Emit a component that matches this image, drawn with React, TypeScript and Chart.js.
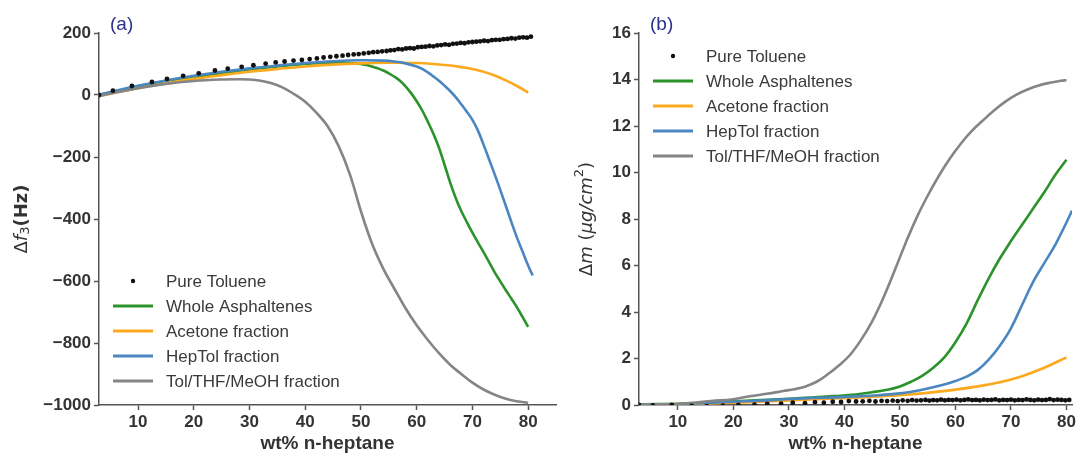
import React, { useEffect, useRef } from 'react';
import { Chart, registerables } from 'chart.js';

Chart.register(...registerables);

// ---------- data ----------
const xTickValues = [10, 20, 30, 40, 50, 60, 70, 80];

const legendLabels = ['Pure Toluene', 'Whole Asphaltenes', 'Acetone fraction', 'HepTol fraction', 'Tol/THF/MeOH fraction'];
const seriesColors = ['#111111', '#2a932a', '#fca91e', '#4a87c0', '#858585'];

// Pure toluene (shared x for both panels)
const tolX = [3.0, 5.5, 8.9, 12.5, 15.2, 18.1, 20.9, 23.8, 26.1, 28.6,
  30.7, 32.9, 34.7, 36.3, 37.9, 39.4, 40.8, 42.1, 43.3, 44.5,
  45.6, 46.7, 47.7, 48.7, 49.6, 50.5, 51.4, 52.2, 53.0, 53.8,
  54.6, 55.3, 56.0, 56.7, 57.4, 58.1, 58.8, 59.5, 60.2, 60.9,
  61.6, 62.3, 63.0, 63.7, 64.4, 65.1, 65.8, 66.5, 67.2, 67.9,
  68.6, 69.3, 70.0, 70.7, 71.4, 72.1, 72.8, 73.5, 74.2, 74.9,
  75.6, 76.3, 77.0, 77.7, 78.4, 79.1, 79.8, 80.5];
const tolFreq = [0, 14, 29, 42, 52, 62, 70, 79, 85, 91,
  96, 101, 105, 108, 111, 113, 116, 118, 121, 123,
  125, 127, 129, 131, 132, 134, 136, 138, 139, 141,
  142, 144, 145, 148, 147, 150, 151, 150, 154, 155,
  156, 158, 157, 160, 161, 163, 162, 165, 166, 168,
  167, 170, 171, 172, 173, 175, 174, 177, 178, 178,
  180, 181, 183, 182, 185, 186, 185, 188];
const tolMass = [0, -0.02, 0.0, -0.04, -0.05, -0.03, 0.0, 0.02, 0.05, 0.06,
  0.1, 0.08, 0.12, 0.1, 0.14, 0.13, 0.17, 0.15, 0.16, 0.18,
  0.15, 0.18, 0.17, 0.19, 0.17, 0.2, 0.18, 0.21, 0.19, 0.2,
  0.22, 0.19, 0.21, 0.2, 0.23, 0.2, 0.22, 0.21, 0.23, 0.2,
  0.22, 0.24, 0.21, 0.22, 0.2, 0.23, 0.21, 0.22, 0.24, 0.2,
  0.22, 0.21, 0.23, 0.2, 0.22, 0.21, 0.24, 0.22, 0.2, 0.23,
  0.21, 0.22, 0.25, 0.21, 0.23, 0.22, 0.2, 0.22];

// Panel (a): frequency shift
const wholeFreqX = [3, 6, 10, 15, 20, 25, 30, 35, 40, 44, 47, 49, 50, 51, 52, 53, 54, 55, 56, 57, 58, 59, 60, 61, 62, 63, 64, 65, 66, 67, 68, 69, 70, 71, 72, 73, 74, 75, 76, 77, 78, 79, 80];
const wholeFreqY = [0, 12, 28, 45, 58, 70, 82, 92, 100, 104, 104, 102, 100, 97, 92, 86, 79, 70, 59, 46, 28, 6, -20, -50, -86, -125, -170, -225, -282, -332, -374, -410, -444, -476, -507, -539, -572, -601, -630, -657, -685, -716, -748];

const acetoneFreqX = [3, 6, 10, 15, 20, 25, 30, 35, 40, 45, 50, 55, 60, 63, 66, 68, 70, 72, 74, 76, 78, 80];
const acetoneFreqY = [-4, 8, 22, 38, 52, 64, 75, 84, 92, 98, 102, 104, 103, 100, 95, 90, 84, 75, 63, 47, 29, 8];

const heptolFreqX = [3, 6, 10, 15, 20, 25, 30, 35, 40, 45, 50, 54, 56, 58, 60, 61, 62, 63, 64, 65, 66, 67, 68, 69, 70, 71, 72, 73, 74, 75, 76, 77, 78, 79, 80, 80.8];
const heptolFreqY = [0, 14, 30, 47, 62, 75, 86, 95, 103, 109, 112, 111, 108, 102, 92, 84, 73, 60, 46, 30, 13, -7, -30, -54, -80, -115, -160, -208, -256, -306, -358, -410, -460, -505, -550, -582];

const tthfFreqX = [3, 6, 10, 15, 20, 25, 28, 30, 32, 34, 36, 38, 40, 42, 44, 46, 48, 50, 52, 54, 56, 58, 60, 62, 64, 66, 68, 70, 72, 74, 76, 78, 80];
const tthfFreqY = [-4, 8, 22, 36, 45, 50, 51, 50, 46, 38, 24, 3, -22, -57, -100, -165, -255, -375, -480, -560, -625, -688, -743, -790, -833, -870, -900, -928, -950, -967, -980, -988, -993];

// Panel (b): mass
const wholeMassX = [3, 6, 10, 14, 18, 22, 26, 30, 34, 38, 42, 45, 48, 50, 52, 54, 56, 58, 60, 62, 64, 66, 68, 70, 72, 74, 76, 78, 80];
const wholeMassY = [0.02, 0.04, 0.05, 0.1, 0.15, 0.18, 0.22, 0.27, 0.32, 0.38, 0.45, 0.55, 0.67, 0.8, 1.0, 1.25, 1.6, 2.05, 2.7, 3.5, 4.5, 5.45, 6.3, 7.05, 7.75, 8.45, 9.15, 9.9, 10.55];

const acetoneMassX = [3, 8, 14, 20, 26, 32, 38, 44, 50, 55, 60, 64, 68, 72, 76, 80];
const acetoneMassY = [0.0, 0.02, 0.06, 0.1, 0.15, 0.22, 0.28, 0.34, 0.42, 0.52, 0.66, 0.8, 0.98, 1.24, 1.6, 2.05];

const heptolMassX = [3, 6, 10, 14, 18, 22, 26, 30, 34, 38, 42, 46, 50, 54, 58, 60, 62, 64, 66, 68, 70, 72, 74, 76, 78, 80, 81];
const heptolMassY = [0.0, 0.02, 0.03, 0.08, 0.12, 0.16, 0.2, 0.26, 0.3, 0.33, 0.37, 0.42, 0.5, 0.66, 0.88, 1.03, 1.22, 1.5, 1.95, 2.55, 3.3, 4.3, 5.3, 6.1, 6.9, 7.85, 8.36];

const tthfMassX = [3, 6, 10, 13, 16, 20, 23, 26, 29, 31, 33, 35, 37, 39, 41, 43, 45, 47, 49, 51, 53, 55, 57, 59, 61, 63, 65, 67, 69, 71, 73, 75, 77, 79, 80];
const tthfMassY = [0.0, 0.02, 0.04, 0.1, 0.17, 0.25, 0.38, 0.48, 0.6, 0.68, 0.8, 1.0, 1.32, 1.7, 2.15, 2.8, 3.6, 4.6, 5.75, 6.95, 8.05, 9.0, 9.85, 10.6, 11.25, 11.8, 12.25, 12.68, 13.05, 13.35, 13.57, 13.74, 13.86, 13.95, 13.97];

// ---------- helpers ----------
const pts = (xs: number[], ys: number[]) => xs.map((x, i) => ({ x, y: ys[i] }));

type Piece = { t: string; font: string; dy?: number };

const decorPlugin = {
  id: 'panelDecor',
  afterDraw(chart: any, _args: any, opts: any) {
    const ctx = chart.ctx as CanvasRenderingContext2D;
    const ca = chart.chartArea;
    ctx.save();
    // panel label
    ctx.font = '19px "Liberation Sans"';
    ctx.fillStyle = '#2d2f8c';
    ctx.textBaseline = 'middle';
    ctx.textAlign = 'left';
    ctx.fillText(opts.label, ca.left + 11, 25);

    // legend
    const rowH = 25;
    opts.legendLabels.forEach((lab: string, i: number) => {
      const y = opts.legendTop + i * rowH;
      const x0 = ca.left + 14;
      if (i === 0) {
        ctx.fillStyle = opts.colors[0];
        ctx.beginPath();
        ctx.arc(x0 + 20, y, 2.2, 0, Math.PI * 2);
        ctx.fill();
      } else {
        ctx.strokeStyle = opts.colors[i];
        ctx.lineWidth = 3;
        ctx.beginPath();
        ctx.moveTo(x0, y);
        ctx.lineTo(x0 + 40, y);
        ctx.stroke();
      }
      ctx.fillStyle = '#3a3a3a';
      ctx.font = '17px "Liberation Sans"';
      ctx.textAlign = 'left';
      ctx.textBaseline = 'middle';
      ctx.fillText(lab, ca.left + 67, y + 1);
    });

    // x title
    ctx.fillStyle = '#333333';
    ctx.font = 'bold 19px "Liberation Sans"';
    ctx.textAlign = 'center';
    ctx.textBaseline = 'middle';
    ctx.fillText(opts.xTitle, (ca.left + ca.right) / 2, 444);

    // y title (rotated, mixed fonts)
    const pieces: Piece[] = opts.yTitle;
    ctx.translate(opts.yTitleX, (ca.top + ca.bottom) / 2);
    ctx.rotate(-Math.PI / 2);
    let total = 0;
    pieces.forEach((p) => { ctx.font = p.font; total += ctx.measureText(p.t).width; });
    let cx = -total / 2;
    ctx.textAlign = 'left';
    ctx.textBaseline = 'middle';
    ctx.fillStyle = '#333333';
    pieces.forEach((p) => {
      ctx.font = p.font;
      ctx.fillText(p.t, cx, p.dy || 0);
      cx += ctx.measureText(p.t).width;
    });
    ctx.restore();
  },
};

const axisColor = '#555555';
const tickFont = { family: 'Liberation Sans', size: 17, weight: 'bold' as const };

function buildOptions(p: {
  xMin: number; xMax: number; yMin: number; yMax: number; yStep: number;
  yWidth: number; padRight: number; label: string; legendTop: number;
  yTitle: Piece[]; yTitleX: number;
}) {
  return {
    responsive: false,
    animation: false as const,
    layout: { padding: { top: 33, right: p.padRight, left: 0, bottom: 0 } },
    plugins: {
      legend: { display: false },
      tooltip: { enabled: false },
      panelDecor: {
        label: p.label,
        legendTop: p.legendTop,
        legendLabels,
        colors: seriesColors,
        xTitle: 'wt% n-heptane',
        yTitle: p.yTitle,
        yTitleX: p.yTitleX,
      },
    },
    scales: {
      x: {
        type: 'linear' as const,
        min: p.xMin,
        max: p.xMax,
        afterBuildTicks: (s: any) => { s.ticks = xTickValues.map((v) => ({ value: v })); },
        afterFit: (s: any) => { s.height = 49; },
        grid: { display: true, drawOnChartArea: false, drawTicks: true, tickLength: 5, tickWidth: 1.5, tickColor: axisColor },
        border: { display: true, color: axisColor, width: 1.5 },
        ticks: { font: tickFont, color: '#333333', padding: 2, maxRotation: 0, autoSkip: false },
      },
      y: {
        type: 'linear' as const,
        min: p.yMin,
        max: p.yMax,
        afterFit: (s: any) => { s.width = p.yWidth; },
        grid: { display: true, drawOnChartArea: false, drawTicks: true, tickLength: 5, tickWidth: 1.5, tickColor: axisColor },
        border: { display: true, color: axisColor, width: 1.5 },
        ticks: {
          stepSize: p.yStep,
          font: tickFont,
          color: '#333333',
          padding: 3,
          callback: (v: any) => String(v).replace('-', '\u2212'),
        },
      },
    },
  };
}

function lineDs(data: { x: number; y: number }[], color: string, order: number) {
  return {
    data,
    showLine: true,
    borderColor: color,
    backgroundColor: color,
    borderWidth: 2.6,
    pointRadius: 0,
    tension: 0.4,
    order,
  };
}

function dotDs(data: { x: number; y: number }[]) {
  return {
    data,
    showLine: false,
    pointRadius: 2.4,
    pointBorderWidth: 0,
    backgroundColor: seriesColors[0],
    borderColor: seriesColors[0],
    order: 0,
  };
}

export default function App() {
  const leftRef = useRef<HTMLCanvasElement>(null);
  const rightRef = useRef<HTMLCanvasElement>(null);

  useEffect(() => {
    const left = new Chart(leftRef.current as HTMLCanvasElement, {
      type: 'scatter',
      data: {
        datasets: [
          dotDs(pts(tolX, tolFreq)),
          lineDs(pts(wholeFreqX, wholeFreqY), seriesColors[1], 4),
          lineDs(pts(acetoneFreqX, acetoneFreqY), seriesColors[2], 3),
          lineDs(pts(heptolFreqX, heptolFreqY), seriesColors[3], 2),
          lineDs(pts(tthfFreqX, tthfFreqY), seriesColors[4], 1),
        ] as any,
      },
      options: buildOptions({
        xMin: 3, xMax: 85, yMin: -1000, yMax: 200, yStep: 200,
        yWidth: 99, padRight: 3, label: '(a)', legendTop: 281,
        yTitleX: 22,
        yTitle: [
          { t: 'Δ', font: '18px "DejaVu Sans"' },
          { t: 'f', font: 'italic 18px "DejaVu Sans"' },
          { t: '3', font: '13px "DejaVu Sans"', dy: 4 },
          { t: '(Hz)', font: 'bold 18px "DejaVu Sans"' },
        ],
      }) as any,
      plugins: [decorPlugin as any],
    });

    const right = new Chart(rightRef.current as HTMLCanvasElement, {
      type: 'scatter',
      data: {
        datasets: [
          dotDs(pts(tolX, tolMass)),
          lineDs(pts(wholeMassX, wholeMassY), seriesColors[1], 4),
          lineDs(pts(acetoneMassX, acetoneMassY), seriesColors[2], 3),
          lineDs(pts(heptolMassX, heptolMassY), seriesColors[3], 2),
          lineDs(pts(tthfMassX, tthfMassY), seriesColors[4], 1),
        ] as any,
      },
      options: buildOptions({
        xMin: 3, xMax: 81, yMin: 0, yMax: 16, yStep: 2,
        yWidth: 79, padRight: 14, label: '(b)', legendTop: 56,
        yTitleX: 27,
        yTitle: [
          { t: 'Δ', font: '18px "DejaVu Sans"' },
          { t: 'm', font: 'italic 18px "DejaVu Sans"' },
          { t: ' (', font: '18px "DejaVu Sans"' },
          { t: 'μg/cm', font: 'italic 18px "DejaVu Sans"' },
          { t: '2', font: '13px "DejaVu Sans"', dy: -7 },
          { t: ')', font: '18px "DejaVu Sans"' },
        ],
      }) as any,
      plugins: [decorPlugin as any],
    });

    return () => {
      left.destroy();
      right.destroy();
    };
  }, []);

  return (
    <div style={{ position: 'absolute', left: 0, top: 0, width: 1086, height: 454, background: '#ffffff' }}>
      <div style={{ position: 'absolute', left: 0, top: 0, width: 560, height: 454 }}>
        <canvas ref={leftRef} width={560} height={454} style={{ display: 'block' }} />
      </div>
      <div style={{ position: 'absolute', left: 560, top: 0, width: 526, height: 454 }}>
        <canvas ref={rightRef} width={526} height={454} style={{ display: 'block' }} />
      </div>
    </div>
  );
}
